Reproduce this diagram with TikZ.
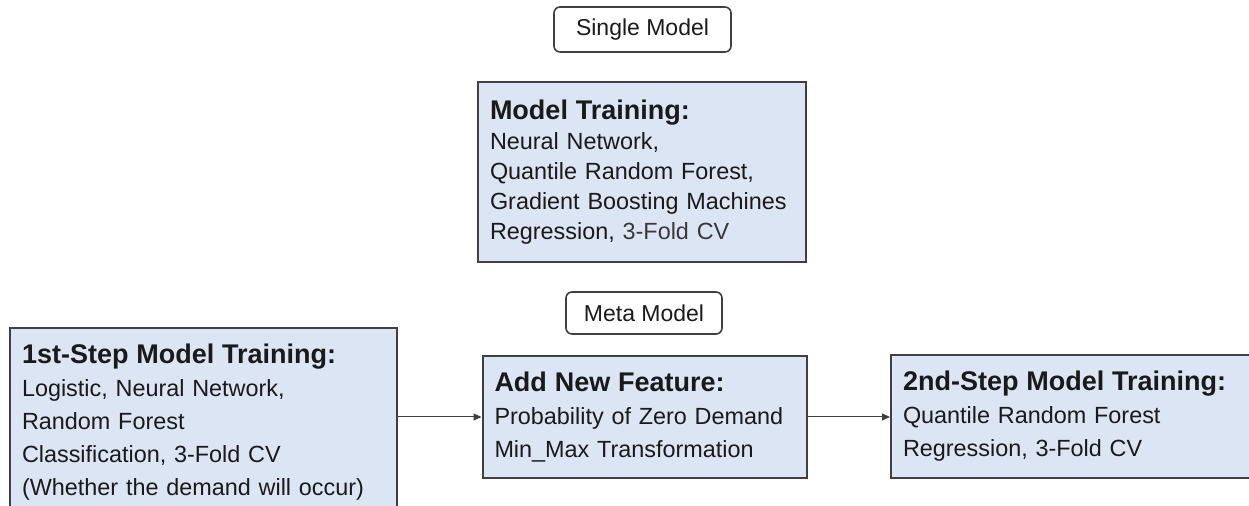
\documentclass[tikz,border=0pt]{standalone}
\usepackage{fontspec}
\setmainfont{Liberation Sans}
\usepackage{tikz}
\usetikzlibrary{arrows.meta}
\definecolor{boxblue}{RGB}{219,229,243}
\definecolor{edgegray}{RGB}{64,64,64}
\definecolor{inkgray}{RGB}{26,26,26}
\hyphenpenalty=10000
\newcommand{\hd}[1]{{\fontsize{13.5}{16}\selectfont\bfseries #1}}
\tikzset{
  box/.style={draw=edgegray,line width=1pt,fill=boxblue,align=left,text=inkgray,
              font=\fontsize{11.7}{16.5}\selectfont,inner xsep=6pt,inner ysep=8pt},
  tag/.style={draw=edgegray,line width=0.8pt,rounded corners=3pt,fill=white,
              font=\fontsize{11.5}{14}\selectfont,text=inkgray},
  arr/.style={-{Triangle[length=4pt,width=3.5pt]},line width=0.5pt,edgegray}
}
\begin{document}
\begin{tikzpicture}[x=0.5pt,y=0.5pt]
  \clip (0,0) rectangle (1249,506);
  % single model (top)
  \node[tag,minimum width=88.5pt,minimum height=22.5pt] (single) at (642.5,476.5) {Single Model};
  \node[box,text width=152pt,minimum height=90pt,font=\fontsize{11.7}{15}\selectfont] (train) at (642,334)
    {\hd{Model Training:}\\Neural Network,\\Quantile Random Forest,\\Gradient Boosting Machines\\Regression, {\color{black!78}3-Fold CV}};
  % meta model (bottom row)
  \node[tag,minimum width=78pt,minimum height=21pt] (meta) at (644,193) {Meta Model};
  \node[box,text width=150pt,minimum height=57pt] (feat) at (644.5,89)
    {\hd{Add New Feature:}\\Probability of Zero Demand\\Min\_Max Transformation};
  \node[box,anchor=north west,text width=181.5pt] (step1) at (9,179)
    {\hd{1st-Step Model Training:}\\Logistic, Neural Network,\\Random Forest\\Classification, 3-Fold CV\\(Whether the demand will occur)};
  \node[box,anchor=west,text width=200pt,minimum height=59.5pt] (step2) at (890,89.5)
    {\hd{2nd-Step Model Training:}\\Quantile Random Forest\\Regression, 3-Fold CV};
  \draw[arr] (step1.east |- feat.west) -- (feat.west);
  \draw[arr] (feat.east) -- (step2.west |- feat.east);
\end{tikzpicture}
\end{document}
